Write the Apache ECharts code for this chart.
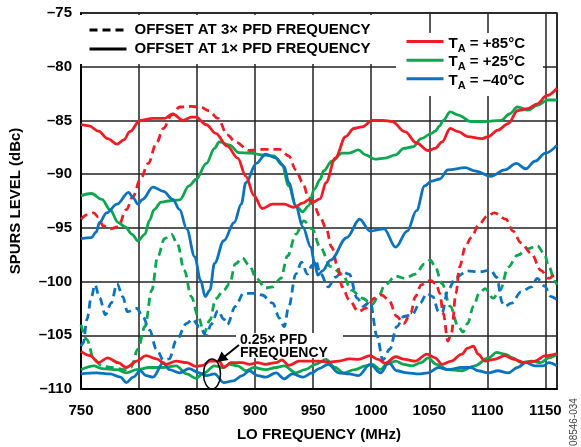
<!DOCTYPE html>
<html>
<head>
<meta charset="utf-8">
<script src="https://cdn.jsdelivr.net/npm/echarts@6/dist/echarts.min.js"></script>
<style>
  html, body { margin: 0; padding: 0; background: #fff; }
  #chart { width: 581px; height: 447px; }
</style>
</head>
<body>
<div id="chart"></div>
<script>
// axis ticks
var xMin = 750, xMax = 1160, xStep = 50;
var yMin = -110, yMax = -75, yStep = 5;

// offset at 1x PFD frequency (solid, upper)
var red1x = [[750,-85.4],[757,-85.5],[765,-86.0],[773,-86.7],[781,-87.2],[787,-86.8],[792,-86.05],[801,-85.0],[812,-84.8],[822,-84.8],[829,-84.4],[838,-85.0],[845,-84.7],[849,-84.7],[858,-85.4],[866,-86.2],[876,-87.4],[885,-88.5],[892,-90.2],[899,-92.0],[906,-93.2],[915,-92.8],[925,-92.8],[933,-93.1],[941,-92.7],[946,-92.4],[950,-92.6],[956,-92.3],[961,-90.8],[969,-88.5],[978,-86.5],[985,-85.75],[992,-85.6],[1001,-85.0],[1010,-85.0],[1018,-85.1],[1029,-86.05],[1039,-87.1],[1049,-87.8],[1055,-87.6],[1061,-87.0],[1068,-85.75],[1075,-86.05],[1083,-86.5],[1095,-86.7],[1101,-86.5],[1109,-85.9],[1118,-85.3],[1126,-84.1],[1135,-83.9],[1143,-83.45],[1151,-82.7],[1160,-82.0]];
var green1x = [[750,-92.0],[759,-91.8],[768,-92.35],[775,-93.3],[782,-94.5],[788,-94.9],[794,-95.6],[799,-96.2],[805,-95.6],[809,-94.3],[813,-93.3],[819,-92.6],[825,-92.5],[835,-92.4],[843,-91.1],[849,-90.5],[858,-89.0],[865,-87.6],[869,-87.0],[878,-87.3],[886,-88.0],[896,-88.05],[906,-88.2],[916,-88.3],[923,-89.1],[929,-91.1],[935,-92.95],[941,-93.5],[946,-92.95],[951,-91.4],[956,-90.5],[959,-89.7],[966,-88.8],[975,-88.05],[981,-88.05],[989,-87.75],[995,-88.2],[1003,-88.6],[1012,-88.5],[1021,-88.2],[1028,-87.6],[1036,-87.45],[1043,-86.7],[1052,-86.2],[1055,-86.0],[1059,-85.5],[1062,-85.0],[1068,-84.2],[1075,-84.5],[1086,-85.1],[1098,-85.1],[1112,-85.0],[1119,-84.4],[1126,-83.75],[1135,-84.05],[1143,-83.6],[1152,-83.1],[1160,-83.1]];
var blue1x = [[750,-96.0],[759,-95.9],[763,-95.4],[766,-94.5],[772,-93.6],[781,-92.8],[791,-91.7],[795,-92.2],[799,-92.8],[803,-92.35],[812,-91.2],[821,-91.6],[829,-92.35],[835,-93.3],[841,-95.1],[848,-97.7],[853,-99.9],[857,-101.4],[861,-100.8],[865,-98.3],[873,-96.2],[882,-94.5],[888,-92.8],[892,-90.8],[901,-89.0],[909,-88.15],[918,-88.5],[925,-89.3],[929,-90.8],[935,-92.95],[941,-94.9],[948,-96.8],[951,-98.2],[954,-99.4],[958,-99.0],[965,-98.0],[979,-95.9],[990,-94.2],[999,-95.3],[1011,-95.1],[1021,-96.8],[1031,-95.3],[1039,-93.4],[1046,-91.1],[1052,-90.65],[1059,-90.45],[1066,-89.6],[1081,-89.4],[1089,-89.7],[1103,-90.2],[1115,-89.6],[1125,-89.0],[1133,-89.5],[1141,-88.8],[1150,-88.05],[1160,-87.3]];

// offset at 3x PFD frequency (dashed)
var red3x = [[750,-94.2],[755,-93.8],[761,-93.6],[765,-94.0],[769,-94.8],[775,-95.1],[782,-94.9],[789,-93.3],[795,-92.05],[801,-90.5],[808,-89.0],[815,-87.1],[821,-85.75],[828,-84.5],[835,-83.75],[845,-83.7],[853,-83.75],[860,-84.1],[868,-84.8],[876,-86.35],[883,-87.0],[895,-87.8],[906,-87.7],[921,-87.7],[929,-88.3],[935,-89.6],[941,-90.8],[946,-92.2],[951,-93.0],[956,-94.0],[961,-95.0],[966,-96.8],[971,-98.6],[975,-100.5],[981,-101.7],[989,-102.8],[995,-102.5],[1003,-101.55],[1009,-101.25],[1015,-101.7],[1022,-103.25],[1028,-103.9],[1034,-102.95],[1038,-101.4],[1043,-100.3],[1051,-99.9],[1056,-100.2],[1059,-101.1],[1062,-102.95],[1066,-105.55],[1069,-104.8],[1073,-101.1],[1076,-98.65],[1081,-96.8],[1086,-95.9],[1093,-94.65],[1100,-93.9],[1106,-93.6],[1116,-94.2],[1122,-95.3],[1129,-96.4],[1138,-97.4],[1146,-98.95],[1153,-99.7],[1158,-99.4],[1160,-99.6]];
var green3x = [[750,-104.0],[755,-105.4],[761,-107.2],[768,-107.85],[776,-108.0],[788,-108.2],[793,-108.0],[799,-106.3],[805,-104.2],[811,-100.8],[816,-97.7],[822,-96.0],[828,-95.6],[833,-96.5],[839,-98.95],[845,-101.4],[851,-103.25],[856,-104.8],[861,-103.6],[866,-101.6],[873,-100.8],[878,-100.2],[883,-98.35],[889,-97.8],[895,-98.5],[901,-99.7],[909,-100.6],[915,-100.5],[922,-99.7],[928,-97.6],[935,-95.6],[942,-94.35],[949,-95.1],[956,-96.8],[965,-98.6],[975,-99.3],[983,-100.8],[992,-101.55],[1001,-102.1],[1006,-101.4],[1012,-100.3],[1021,-99.5],[1029,-99.7],[1038,-99.3],[1046,-98.35],[1051,-98.0],[1055,-98.6],[1061,-100.2],[1068,-102.3],[1075,-104.2],[1079,-104.7],[1083,-103.9],[1088,-102.3],[1093,-101.1],[1098,-100.65],[1105,-101.55],[1111,-100.8],[1118,-98.65],[1126,-97.55],[1135,-96.95],[1143,-96.65],[1149,-97.4],[1153,-98.6],[1158,-99.95],[1160,-100.3]];
var blue3x = [[750,-106.0],[752,-105.7],[755,-103.55],[759,-101.4],[762,-100.3],[766,-101.5],[771,-103.1],[776,-102.0],[781,-100.2],[786,-101.4],[790,-102.8],[798,-102.5],[803,-103.2],[809,-104.5],[815,-106.3],[821,-107.3],[826,-107.2],[832,-105.5],[841,-103.9],[846,-103.5],[852,-104.2],[858,-105.0],[862,-104.0],[868,-102.7],[873,-103.5],[876,-104.0],[883,-102.3],[890,-101.1],[899,-101.1],[906,-101.25],[915,-102.0],[921,-103.4],[925,-104.2],[929,-102.3],[935,-99.3],[940,-98.2],[945,-99.3],[949,-98.5],[952,-98.0],[956,-99.2],[963,-100.5],[969,-99.6],[975,-99.1],[981,-99.3],[988,-101.55],[993,-102.3],[999,-101.9],[1005,-105.1],[1010,-107.3],[1016,-106.3],[1022,-104.2],[1028,-103.25],[1035,-103.1],[1042,-102.0],[1048,-101.1],[1053,-101.4],[1058,-102.8],[1061,-102.9],[1066,-100.8],[1073,-99.6],[1083,-99.0],[1092,-99.1],[1103,-98.95],[1108,-99.6],[1113,-102.0],[1115,-102.3],[1121,-102.0],[1129,-100.95],[1138,-100.5],[1143,-99.7],[1149,-100.4],[1155,-101.4],[1160,-101.7]];

// 0.25x PFD frequency (solid, bottom)
var red025x = [[750,-106.5],[758,-106.9],[765,-107.55],[773,-107.1],[782,-107.55],[789,-108.0],[798,-107.4],[806,-106.9],[815,-107.2],[823,-107.7],[832,-107.4],[841,-107.55],[849,-107.9],[855,-107.8],[861,-107.4],[869,-107.4],[873,-108.0],[879,-107.55],[889,-107.55],[895,-107.7],[902,-107.55],[909,-107.7],[918,-107.55],[923,-107.3],[929,-107.8],[938,-107.4],[946,-107.4],[955,-107.4],[963,-107.5],[972,-107.4],[981,-107.2],[989,-107.25],[999,-106.9],[1006,-107.25],[1012,-107.6],[1021,-107.0],[1029,-107.25],[1038,-107.4],[1048,-106.75],[1055,-107.1],[1061,-107.7],[1069,-107.4],[1078,-106.75],[1083,-106.2],[1088,-106.0],[1092,-106.75],[1098,-107.4],[1106,-107.25],[1115,-106.9],[1123,-107.25],[1132,-107.55],[1141,-107.4],[1150,-106.9],[1160,-106.7]];
var green025x = [[750,-108.2],[761,-107.85],[768,-108.1],[781,-108.2],[789,-108.5],[798,-108.2],[809,-108.0],[821,-108.0],[832,-107.85],[841,-108.6],[849,-109.0],[856,-108.5],[865,-107.85],[872,-108.0],[878,-107.7],[885,-107.85],[892,-108.3],[899,-108.0],[909,-108.2],[918,-108.0],[925,-107.85],[935,-108.5],[943,-108.2],[952,-107.7],[961,-107.25],[969,-108.0],[976,-108.5],[986,-108.2],[995,-107.85],[1001,-107.7],[1008,-108.2],[1013,-107.7],[1021,-107.4],[1028,-107.7],[1035,-107.85],[1043,-107.55],[1049,-107.1],[1056,-107.7],[1066,-108.2],[1078,-108.3],[1089,-107.85],[1101,-107.1],[1108,-106.6],[1115,-106.75],[1122,-107.1],[1129,-107.55],[1138,-107.4],[1146,-107.55],[1153,-107.1],[1160,-106.75]];
var blue025x = [[750,-108.6],[763,-108.5],[775,-108.6],[784,-108.9],[789,-109.4],[795,-108.9],[801,-108.3],[806,-108.75],[812,-108.9],[821,-107.55],[826,-108.2],[835,-108.5],[843,-108.1],[852,-108.5],[858,-108.75],[865,-108.6],[873,-109.4],[881,-109.25],[889,-108.75],[895,-108.3],[902,-108.75],[909,-108.9],[918,-108.5],[925,-109.05],[932,-108.6],[941,-108.9],[949,-108.5],[955,-108.1],[963,-107.7],[972,-108.5],[981,-108.6],[989,-108.75],[999,-107.7],[1008,-108.5],[1015,-107.55],[1022,-108.3],[1031,-108.5],[1041,-108.6],[1049,-108.5],[1058,-108.0],[1066,-108.2],[1078,-108.0],[1086,-108.0],[1092,-108.3],[1101,-108.5],[1109,-108.3],[1118,-108.5],[1126,-108.0],[1133,-107.55],[1141,-107.85],[1148,-107.85],[1153,-107.55],[1160,-107.85]];

var RED = '#ee1c25', GREEN = '#0ca64f', BLUE = '#0b72bc';
var FONT = '"Liberation Sans", Arial, sans-serif';

var chart = echarts.init(document.getElementById('chart'), null, { renderer: 'canvas' });

function mkLine(name, data, color, dashed) {
  return {
    name: name,
    type: 'line',
    data: data,
    symbol: 'none',
    smooth: 0.35,
    smoothMonotone: 'x',
    silent: true,
    lineStyle: { color: color, width: 2.8, type: dashed ? [8, 5] : 'solid' },
    itemStyle: { color: color },
    z: 2
  };
}

var option = {
  backgroundColor: '#fff',
  animation: false,
  textStyle: { fontFamily: FONT },
  grid: {
    left: 79, right: 24, top: 13, bottom: 56,
    show: true, borderColor: '#111', borderWidth: 1.5
  },
  legend: [
    {
      data: ['OFFSET AT 3× PFD FREQUENCY', 'OFFSET AT 1× PFD FREQUENCY'],
      orient: 'vertical', left: 88, top: 22, padding: 0,
      itemWidth: 37, itemHeight: 14, itemGap: 3,
      selectedMode: false,
      itemStyle: { opacity: 0 },
      lineStyle: { width: 3 },
      textStyle: { color: '#000', fontSize: 15, fontWeight: 'bold', fontFamily: FONT, lineHeight: 16, padding: [0, 0, 0, 3] }
    },
    {
      data: ['+85°C', '+25°C', '–40°C'],
      orient: 'vertical', left: 405, top: 36, padding: 0,
      itemWidth: 37, itemHeight: 14, itemGap: 0.5,
      selectedMode: false,
      itemStyle: { opacity: 0 },
      lineStyle: { width: 3 },
      formatter: function (n) { return '{t|T}{s|A}{t| = ' + n + '}'; },
      textStyle: {
        color: '#000', fontFamily: FONT,
        rich: {
          t: { fontSize: 15, fontWeight: 'bold', color: '#000', padding: [4, 0, 0, 0] },
          s: { fontSize: 11, fontWeight: 'bold', color: '#000', padding: [14, 0, 0, 0] }
        }
      }
    }
  ],
  xAxis: {
    type: 'value', min: xMin, max: xMax, interval: xStep,
    name: 'LO FREQUENCY (MHz)', nameLocation: 'middle', nameGap: 38,
    nameTextStyle: { color: '#000', fontSize: 15, fontWeight: 'bold', fontFamily: FONT },
    axisLine: { show: true, lineStyle: { color: '#000', width: 2 } },
    axisTick: { show: false },
    axisLabel: {
      color: '#000', fontSize: 15, fontWeight: 'bold', margin: 14, showMaxLabel: false, fontFamily: FONT,
      formatter: function (v) { return String(v); }
    },
    splitLine: { show: true, lineStyle: { color: '#222', width: 1.5 } }
  },
  yAxis: {
    type: 'value', min: yMin, max: yMax, interval: yStep,
    name: 'SPURS LEVEL (dBc)', nameLocation: 'middle', nameGap: 58, nameRotate: 90,
    nameTextStyle: { color: '#000', fontSize: 15, fontWeight: 'bold', fontFamily: FONT },
    axisLine: { show: true, lineStyle: { color: '#000', width: 2 } },
    axisTick: { show: false },
    axisLabel: {
      color: '#000', fontSize: 15, fontWeight: 'bold', margin: 9, fontFamily: FONT,
      formatter: function (v) { return String(v).replace('-', '\u2013'); }
    },
    splitLine: { show: true, lineStyle: { color: '#222', width: 1.5 } }
  },
  graphic: [
    // white boxes behind the two legends and the annotation
    { type: 'rect', z: 1, silent: true, shape: { x: 80, y: 15, width: 315, height: 49 }, style: { fill: '#fff' } },
    { type: 'rect', z: 1, silent: true, shape: { x: 396, y: 33, width: 147, height: 63 }, style: { fill: '#fff' } },
    { type: 'rect', z: 1, silent: true, shape: { x: 236, y: 333, width: 107, height: 25 }, style: { fill: '#fff' } },
    { type: 'text', z: 10, silent: true, style: { x: 240, y: 334, text: '0.25× PFD\nFREQUENCY', fontSize: 14, fontWeight: 'bold', fontFamily: FONT, fill: '#000', lineHeight: 12.5 } },
    { type: 'ellipse', z: 10, silent: true, shape: { cx: 212, cy: 374, rx: 8.5, ry: 15 }, style: { fill: 'none', stroke: '#000', lineWidth: 1.5 } },
    { type: 'line', z: 10, silent: true, shape: { x1: 239, y1: 345, x2: 224, y2: 357 }, style: { stroke: '#000', lineWidth: 2 } },
    { type: 'polygon', z: 10, silent: true, shape: { points: [[217, 362], [221.5, 351.5], [228.5, 360]] }, style: { fill: '#000' } },
    { type: 'text', z: 10, silent: true, rotation: Math.PI / 2, x: 574, y: 422, style: { text: '08546-034', fontSize: 10, fontFamily: FONT, fill: '#444', align: 'center', verticalAlign: 'middle' } }
  ],
  series: [
    { name: 'OFFSET AT 3× PFD FREQUENCY', type: 'line', data: [], symbol: 'none', lineStyle: { color: '#000', width: 3, type: [8, 5] }, itemStyle: { color: '#000' } },
    { name: 'OFFSET AT 1× PFD FREQUENCY', type: 'line', data: [], symbol: 'none', lineStyle: { color: '#000', width: 3 }, itemStyle: { color: '#000' } },
    mkLine('green 3x', green3x, GREEN, true),
    mkLine('blue 3x', blue3x, BLUE, true),
    mkLine('red 3x', red3x, RED, true),
    mkLine('green 0.25x', green025x, GREEN, false),
    mkLine('blue 0.25x', blue025x, BLUE, false),
    mkLine('red 0.25x', red025x, RED, false),
    mkLine('+25°C', green1x, GREEN, false),
    mkLine('–40°C', blue1x, BLUE, false),
    mkLine('+85°C', red1x, RED, false)
  ]
};

chart.setOption(option);
window.addEventListener('resize', function () { chart.resize(); });
</script>
</body>
</html>
